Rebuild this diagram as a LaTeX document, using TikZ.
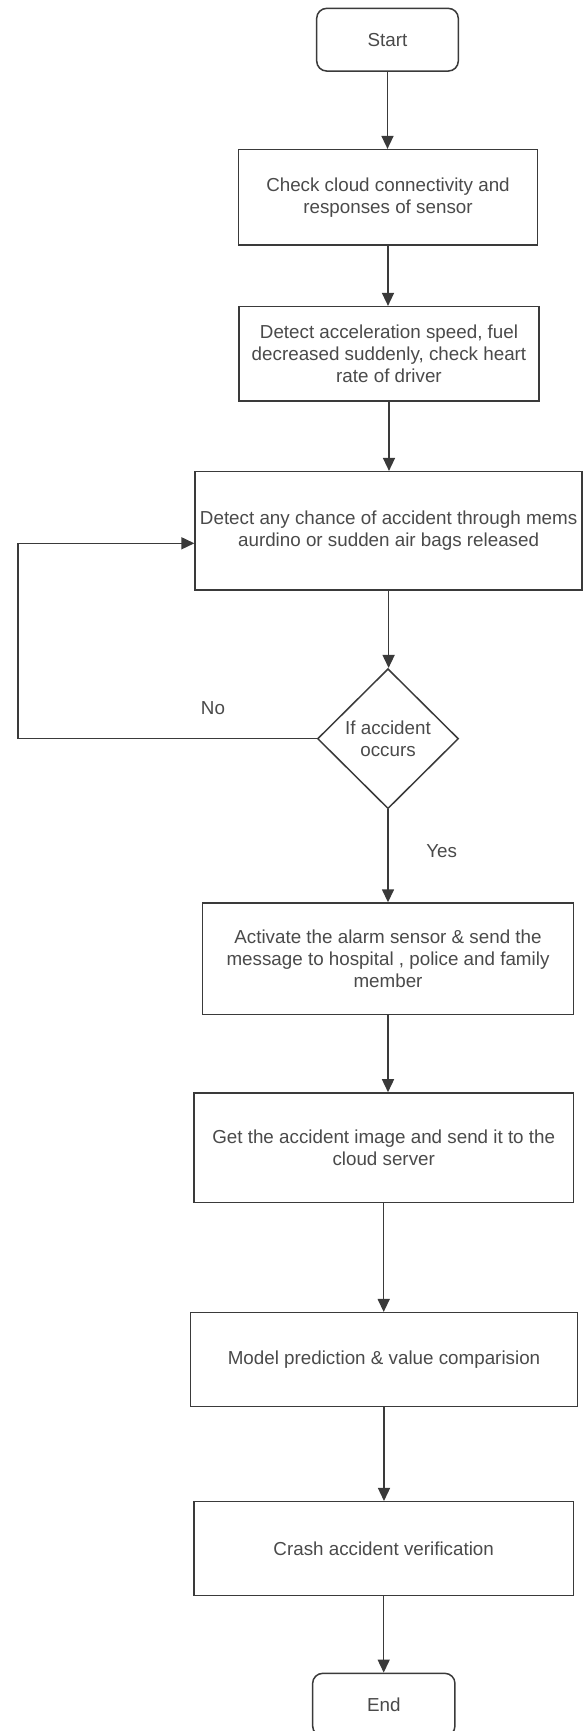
\documentclass[tikz,border=0pt]{standalone}
\usepackage{fontspec}
\setmainfont{Liberation Sans}
\usetikzlibrary{shapes.geometric,arrows.meta}
\definecolor{linec}{HTML}{3A3A3A}
\definecolor{textc}{HTML}{4A4A4A}
\tikzset{
  base/.style={draw=linec, line width=1.5pt, fill=white, text=textc,
    font=\fontsize{18.8}{22}\selectfont, align=center, inner sep=0pt},
  procbox/.style={base, rectangle},
  termbox/.style={base, rectangle, rounded corners=10pt},
  decbox/.style={base, diamond, aspect=1},
  arr/.style={draw=linec, line width=1.5pt, -{Triangle[length=13pt,width=12pt]}},
  lbl/.style={text=textc, font=\fontsize{18.8}{22}\selectfont, inner sep=0pt}
}
\begin{document}
\begin{tikzpicture}[x=1pt,y=-1pt]
\clip (0,0) rectangle (584,1731);
\fill[white] (0,0) rectangle (584,1731);

\node[termbox, minimum width=141.6pt, minimum height=62.7pt] (start) at (387.5,39.7) {Start};
\node[procbox, minimum width=299.4pt, minimum height=95.3pt] (b1) at (388,197.3)
  {Check cloud connectivity and\\responses of sensor};
\node[procbox, minimum width=300pt, minimum height=94.3pt] (b2) at (389,353.8)
  {Detect acceleration speed, fuel\\decreased suddenly, check heart\\rate of driver};
\node[procbox, minimum width=387pt, minimum height=118.3pt] (b3) at (388.6,530.8)
  {Detect any chance of accident through mems\\aurdino or sudden air bags released};
\node[decbox, minimum width=141pt, minimum height=140pt] (dec) at (388,738.7)
  {If accident\\occurs};
\node[procbox, minimum width=370.6pt, minimum height=111.3pt] (b4) at (388,958.7)
  {Activate the alarm sensor \& send the\\message to hospital , police and family\\member};
\node[procbox, minimum width=379.3pt, minimum height=109.7pt] (b5) at (383.7,1147.8)
  {Get the accident image and send it to the\\cloud server};
\node[procbox, minimum width=386.6pt, minimum height=94pt] (b6) at (384,1359.7)
  {Model prediction \& value comparision};
\node[procbox, minimum width=379.3pt, minimum height=94pt] (b7) at (383.7,1548.7)
  {Crash accident verification};
\node[termbox, minimum width=142.3pt, minimum height=62.7pt] (end) at (383.8,1704.7) {End};

\node[lbl] (no) at (213,708) {No};
\node[lbl] (yes) at (441.7,850.7) {Yes};

\coordinate (ld) at (18,738.7);
\coordinate (lc) at (18,543.3);

\draw[arr] (start.south) -- (start.south |- b1.north);
\draw[arr] (b1.south) -- (b1.south |- b2.north);
\draw[arr] (b2.south) -- (b2.south |- b3.north);
\draw[arr] (b3.south) -- (b3.south |- dec.north);
\draw[arr] (dec.south) -- (dec.south |- b4.north);
\draw[arr] (b4.south) -- (b4.south |- b5.north);
\draw[arr] (b5.south) -- (b5.south |- b6.north);
\draw[arr] (b6.south) -- (b6.south |- b7.north);
\draw[arr] (b7.south) -- (b7.south |- end.north);
\draw[arr] (dec.west) -- (ld) -- (lc) -- (lc -| b3.west);
\end{tikzpicture}
\end{document}
